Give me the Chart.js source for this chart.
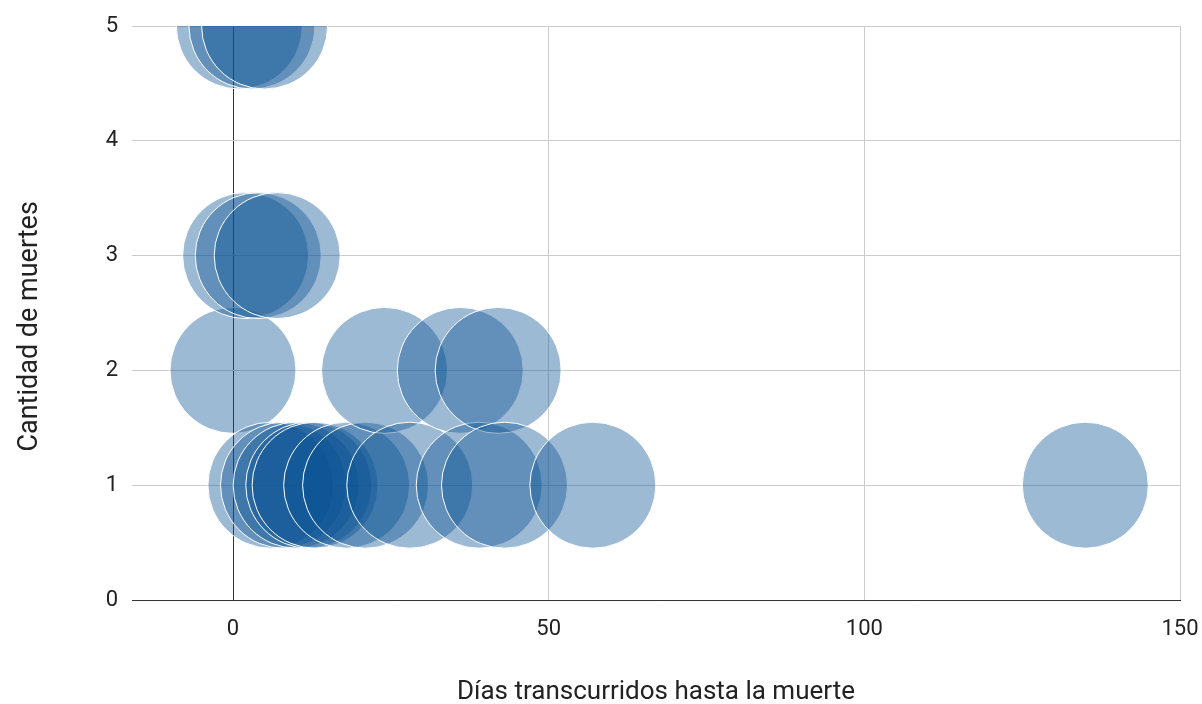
<!DOCTYPE html>
<html>
<head>
<meta charset="utf-8">
<script src="https://cdn.jsdelivr.net/npm/chart.js@4/dist/chart.umd.min.js"></script>
<style>
  html, body { margin: 0; padding: 0; background: #fff; }
  #wrap { width: 1202px; height: 704px; }
</style>
</head>
<body>
<div id="wrap"><canvas id="c" width="1202" height="704"></canvas></div>
<script>
// Días transcurridos hasta la muerte (x) y cantidad de muertes (y)
const dias    = [0, 1, 2, 3, 4, 5, 6, 7, 8, 10, 12, 13, 18, 21, 24, 28, 36, 39, 42, 43, 57, 135];
const muertes = [2, 5, 3, 5, 3, 5, 1, 3, 1, 1, 1, 1, 1, 1, 2, 1, 2, 1, 2, 1, 1, 1];
const xTicks = [0, 50, 100, 150];
const yTicks = [0, 1, 2, 3, 4, 5];
const xTitle = 'Días transcurridos hasta la muerte';
const yTitle = 'Cantidad de muertes';

const points = dias.map((d, i) => ({ x: d, y: muertes[i], r: 63 }));

const FONT = 'Roboto, "Liberation Sans", Arial, sans-serif';

new Chart(document.getElementById('c'), {
  type: 'bubble',
  data: {
    datasets: [{
      data: points,
      backgroundColor: 'rgba(11, 83, 148, 0.4)',
      borderColor: '#ffffff',
      borderWidth: 1,
      hoverBorderWidth: 1,
      clip: 0
    }]
  },
  options: {
    responsive: false,
    animation: false,
    events: [],
    layout: { autoPadding: false, padding: { top: 26, right: 22, left: 0, bottom: 0 } },
    plugins: { legend: { display: false }, tooltip: { enabled: false } },
    scales: {
      x: {
        type: 'linear',
        min: -16,
        max: 150,
        afterBuildTicks: s => { s.ticks = xTicks.map(v => ({ value: v })); },
        afterFit: s => { s.height = 104; s.paddingLeft = 0; s.paddingRight = 0; },
        grid: {
          drawTicks: false,
          color: ctx => (ctx.tick && ctx.tick.value === 0) ? '#333333' : '#cccccc',
          lineWidth: 1
        },
        border: { display: true, color: '#333333', width: 1 },
        ticks: {
          padding: 16,
          color: '#222222',
          font: { family: FONT, size: 22 }
        },
        title: {
          display: true,
          text: xTitle,
          color: '#222222',
          font: { family: FONT, size: 26, lineHeight: 0.9 },
          padding: { top: 0, bottom: 0 }
        }
      },
      y: {
        type: 'linear',
        min: 0,
        max: 5,
        afterBuildTicks: s => { s.ticks = yTicks.map(v => ({ value: v })); },
        afterFit: s => { s.width = 132; s.paddingTop = 0; s.paddingBottom = 0; },
        grid: {
          drawTicks: false,
          color: ctx => (ctx.tick && ctx.tick.value === 0) ? '#333333' : '#cccccc',
          lineWidth: 1
        },
        border: { display: false },
        ticks: {
          padding: 14,
          color: '#222222',
          font: { family: FONT, size: 22 }
        },
        title: {
          display: true,
          text: yTitle + '\u00a0\u00a0\u00a0\u00a0',
          color: '#222222',
          font: { family: FONT, size: 27, lineHeight: 1 },
          padding: { top: 17, bottom: 0 }
        }
      }
    }
  }
});
</script>
</body>
</html>
